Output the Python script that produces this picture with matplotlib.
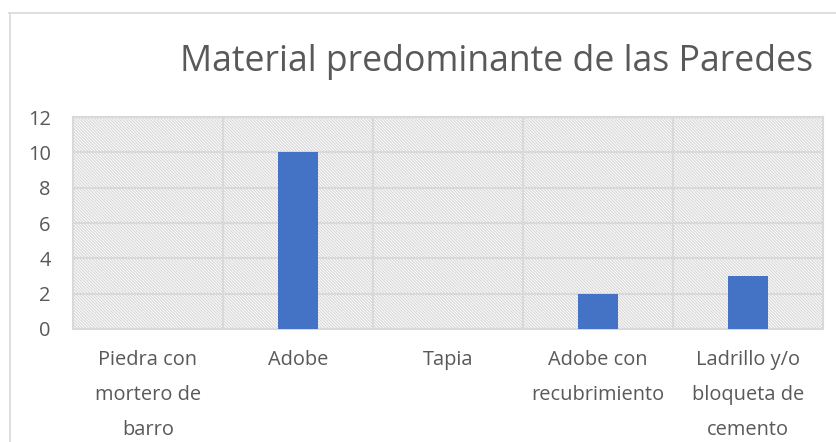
import matplotlib.pyplot as plt
from matplotlib.patches import Rectangle
import numpy as np

plt.rcParams['font.family'] = ['Open Sans', 'DejaVu Sans']
plt.rcParams['hatch.color'] = '#d9d9d9'
plt.rcParams['hatch.linewidth'] = 0.9

# datos
categorias = ['Piedra con\nmortero de\nbarro', 'Adobe', 'Tapia',
              'Adobe con\nrecubrimiento', 'Ladrillo y/o\nbloqueta de\ncemento']
valores = [0, 10, 0, 2, 3]
ticks_y = [0, 2, 4, 6, 8, 10, 12]

gris = '#595959'
W, H = 837, 442
fig = plt.figure(figsize=(W / 100, H / 100), dpi=100)

# plot area en pixeles: x 73-823, y 117-329
ax = fig.add_axes([73 / W, 1 - 329 / H, 750 / W, 212 / H])

x = np.arange(len(categorias))
ax.set_xlim(-0.5, len(categorias) - 0.5)
ax.set_ylim(0, 12)

# fondo rayado
ax.add_patch(Rectangle((0, 0), 1, 1, transform=ax.transAxes, facecolor='white',
                       hatch='\\' * 11, edgecolor='#d9d9d9', linewidth=0, zorder=0))

ax.set_yticks(ticks_y)
ax.set_xticks(x)
ax.set_xticklabels(categorias, fontsize=14.4, color=gris, linespacing=2.0)
ax.tick_params(axis='y', labelsize=14.4, labelcolor=gris, length=0, pad=16)
ax.tick_params(axis='x', length=0, pad=15)

ax.grid(axis='y', color='#d9d9d9', linewidth=1.5, zorder=1)
ax.set_axisbelow(True)
for b in np.arange(0.5, len(categorias) - 1, 1):
    ax.axvline(b, color='#d9d9d9', linewidth=1.5, zorder=1)

ax.bar(x, valores, width=0.27, color='#4472c4', zorder=3)

for s in ['top', 'right', 'left', 'bottom']:
    ax.spines[s].set_color('#d9d9d9')
    ax.spines[s].set_linewidth(1.5)

fig.text(497 / W, 1 - 62 / H, 'Material predominante de las Paredes',
         ha='center', va='center', fontsize=25.7, color=gris)

# borde del grafico
fig.add_artist(plt.Line2D([9 / W, 1], [1 - 12.5 / H, 1 - 12.5 / H], color='#d9d9d9', linewidth=1.2))
fig.add_artist(plt.Line2D([9.5 / W, 9.5 / W], [0, 1 - 12.5 / H], color='#d9d9d9', linewidth=1.2))

fig.savefig('out.png', dpi=100)
